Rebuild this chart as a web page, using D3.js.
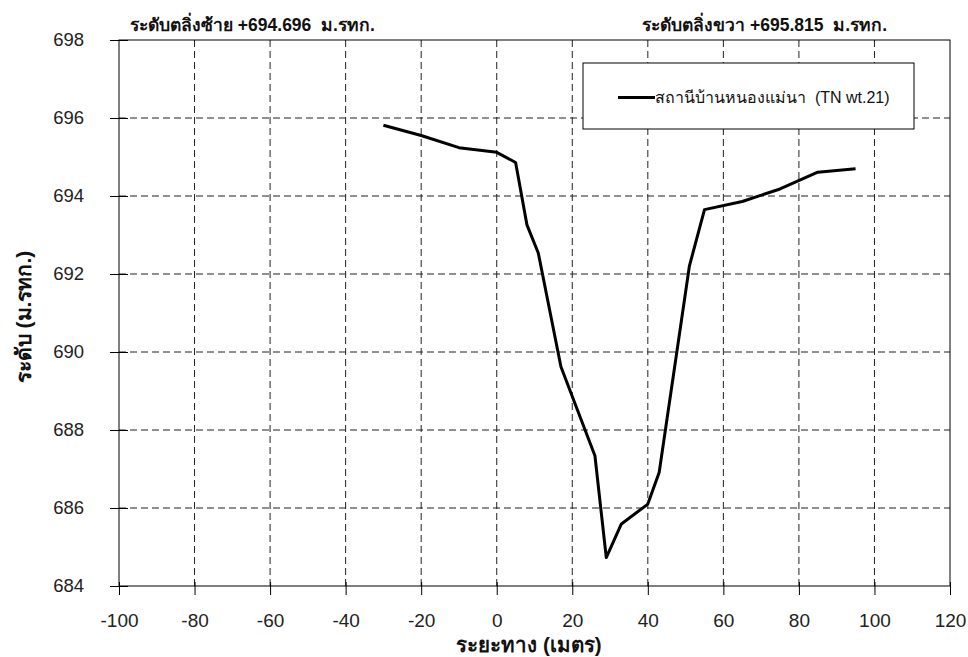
<!DOCTYPE html>
<html>
<head>
<meta charset="utf-8">
<script src="https://cdn.jsdelivr.net/npm/d3@7"></script>
<style>
  html, body { margin: 0; padding: 0; background: #fff; }
  svg { display: block; font-family: "Liberation Sans", Arial, "Noto Sans", sans-serif; }
</style>
</head>
<body>
<svg id="chart" width="968" height="657"></svg>
<script>
// ---- data ----
const distance = [-30, -20, -10, 0, 5, 8, 11, 17, 26, 29, 33, 40, 43, 47, 51, 55, 65, 75, 85, 95];
const elevation = [695.815, 695.55, 695.24, 695.12, 694.86, 693.26, 692.54, 689.62, 687.34, 684.73,
                   685.59, 686.10, 686.91, 689.55, 692.2, 693.65, 693.86, 694.18, 694.61, 694.696];
const xTicks = [-100, -80, -60, -40, -20, 0, 20, 40, 60, 80, 100, 120];
const yTicks = [684, 686, 688, 690, 692, 694, 696, 698];
const seriesName = "สถานีบ้านหนองแม่นา  (TN wt.21)";
const leftBankLabel = "ระดับตลิ่งซ้าย +694.696  ม.รทก.";
const rightBankLabel = "ระดับตลิ่งขวา +695.815  ม.รทก.";
const xTitle = "ระยะทาง (เมตร)";
const yTitle = "ระดับ (ม.รทก.)";

// ---- layout ----
const svg = d3.select("#chart");
const L = 119, R = 950, T = 40, B = 586;
const x = d3.scaleLinear().domain([-100, 120]).range([L, R]);
const y = d3.scaleLinear().domain([684, 698]).range([B, T]);

// gridlines
const grid = svg.append("g");
grid.selectAll("line.vx").data(xTicks.filter(d => d > -100 && d < 120)).join("line")
  .attr("x1", d => x(d)).attr("x2", d => x(d)).attr("y1", T).attr("y2", B)
  .attr("stroke", "#222").attr("stroke-width", 1).attr("stroke-dasharray", "7,4");
grid.selectAll("line.hy").data(yTicks.filter(d => d > 684 && d < 698)).join("line")
  .attr("x1", L).attr("x2", R).attr("y1", d => y(d)).attr("y2", d => y(d))
  .attr("stroke", "#222").attr("stroke-width", 1).attr("stroke-dasharray", "7,4");

// frame
svg.append("rect").attr("x", L).attr("y", T).attr("width", R - L).attr("height", B - T)
  .attr("fill", "none").attr("stroke", "#000").attr("stroke-width", 1);

// axes
const xAxis = d3.axisBottom(x).tickValues(xTicks).tickFormat(d => String(d))
  .tickSize(9).tickSizeOuter(0).tickPadding(19);
const gx = svg.append("g").attr("transform", `translate(0,${B})`).call(xAxis);
gx.select(".domain").remove();
gx.selectAll(".tick line").attr("stroke", "#000").attr("y1", -4);
gx.selectAll(".tick text").attr("font-size", 19).attr("fill", "#222")
  .attr("font-family", "'Liberation Sans', Arial, sans-serif");

const yAxis = d3.axisLeft(y).tickValues(yTicks).tickFormat(d => String(d))
  .tickSize(9).tickSizeOuter(0).tickPadding(26);
const gy = svg.append("g").attr("transform", `translate(${L},0)`).call(yAxis);
gy.select(".domain").remove();
gy.selectAll(".tick line").attr("stroke", "#000").attr("x1", 9);
gy.selectAll(".tick text").attr("font-size", 18.5).attr("fill", "#222")
  .attr("font-family", "'Liberation Sans', Arial, sans-serif");

// data line
const line = d3.line().x((d, i) => x(distance[i])).y(d => y(d));
svg.append("path").datum(elevation).attr("d", line)
  .attr("fill", "none").attr("stroke", "#000").attr("stroke-width", 3)
  .attr("stroke-linejoin", "round");

// bank labels
svg.append("text").attr("x", 130).attr("y", 31).attr("font-size", 17.5).attr("font-weight", "bold")
  .attr("fill", "#111").style("white-space", "pre").text(leftBankLabel);
svg.append("text").attr("x", 887).attr("y", 31).attr("text-anchor", "end").attr("font-size", 17.5)
  .attr("font-weight", "bold").attr("fill", "#111").style("white-space", "pre").text(rightBankLabel);

// legend
svg.append("rect").attr("x", 583).attr("y", 63).attr("width", 331).attr("height", 66)
  .attr("fill", "#fff").attr("stroke", "#000").attr("stroke-width", 1);
svg.append("line").attr("x1", 618).attr("x2", 655).attr("y1", 97.5).attr("y2", 97.5)
  .attr("stroke", "#000").attr("stroke-width", 3);
svg.append("text").attr("x", 655).attr("y", 102.5).attr("font-size", 16).attr("fill", "#111")
  .style("white-space", "pre").text(seriesName);

// axis titles
svg.append("text").attr("x", 529).attr("y", 652).attr("text-anchor", "middle")
  .attr("font-size", 20.5).attr("font-weight", "bold").attr("fill", "#111").text(xTitle);
svg.append("text").attr("transform", "translate(31,317) rotate(-90)").attr("text-anchor", "middle")
  .attr("font-size", 21).attr("font-weight", "bold").attr("fill", "#111").text(yTitle);
</script>
</body>
</html>
